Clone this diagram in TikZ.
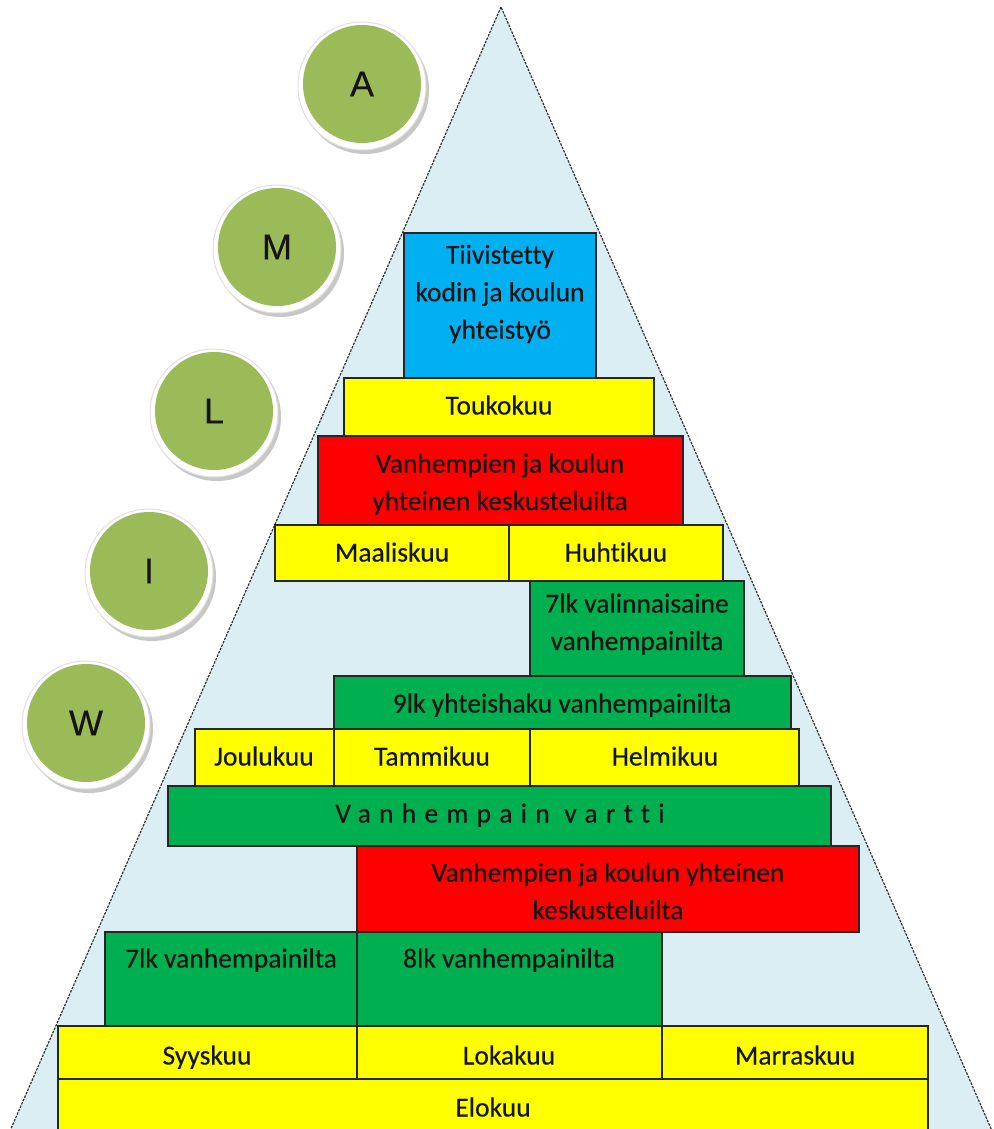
\documentclass[tikz,border=0pt]{standalone}
\usepackage{fontspec}
\setmainfont{Carlito}[Ligatures=NoCommon, FakeBold=0.3]
\newfontfamily\circfont{Liberation Sans}[FakeBold=0.3]
\newfontfamily\spacedfont{Carlito}[LetterSpace=30, Ligatures=NoCommon, FakeBold=0.3]
\definecolor{trifill}{HTML}{DBEEF4}
\definecolor{cblue}{HTML}{00B0F0}
\definecolor{cgreen}{HTML}{00B050}
\definecolor{cred}{HTML}{FF0000}
\definecolor{cyellow}{HTML}{FFFF00}
\definecolor{circgreen}{HTML}{9BBB59}
\definecolor{txtc}{HTML}{141414}
\tikzset{
  box/.style={draw=black!85, line width=1.3pt, inner sep=0pt, outer sep=0pt, anchor=north west},
  txt/.style={font=\fontsize{27.5}{37.5}\selectfont, text=txtc, align=center, inner sep=0pt},
  one/.style={txt, text height=19pt, text depth=0pt},
  tri/.style={draw=black!80, line width=1.2pt, dash pattern=on 2.5pt off 1.2pt, fill=trifill},
  ring/.style={circle, fill=white, draw=black!12, line width=1pt, minimum size=128pt, inner sep=0pt},
  ball/.style={circle, fill=circgreen, minimum size=118pt, inner sep=0pt, text=txtc, font=\circfont\fontsize{36}{40}\selectfont},
}
\newcommand\bx[6]{\node[box, fill=#6, minimum width={#4pt-#2pt}, minimum height={#5pt-#3pt}] (#1) at (#2,#3) {};}
\begin{document}
\begin{tikzpicture}[x=1pt,y=-1pt]
\useasboundingbox (0,0) rectangle (993,1129);
\clip (0,0) rectangle (993,1129);
\fill[white] (0,0) rectangle (993,1129);
% triangle
\coordinate (apex) at (501,7);
\coordinate (bl) at (6,1140);
\coordinate (br) at (996,1140);
\draw[tri] (apex) -- (bl) -- (br) -- cycle;
% circles
\foreach \n/\x/\y in {A/362/86, M/277/249, L/214/413, I/149/573, W/86/725}{
  \fill[black!22] (\x+3,\y+4) circle (64);
  \node[ring] (ring\n) at (\x,\y) {};
  \node[ball] (c\n) at (\x,\y-2) {\n};
}
% boxes
\bx{blue}{404}{233}{596}{378}{cblue}
\bx{touko}{344}{378}{654}{436}{cyellow}
\bx{redA}{318}{436}{683}{525}{cred}
\bx{maalis}{275}{525}{509}{581}{cyellow}
\bx{huhti}{509}{525}{723}{581}{cyellow}
\bx{val}{530}{581}{744}{676}{cgreen}
\bx{yh}{334}{676}{791}{729}{cgreen}
\bx{joulu}{195}{729}{334}{786}{cyellow}
\bx{tammi}{334}{729}{530}{786}{cyellow}
\bx{helmi}{530}{729}{799}{786}{cyellow}
\bx{vartti}{168}{786}{831}{846}{cgreen}
\bx{redB}{357}{846}{859}{932}{cred}
\bx{vsev}{105}{932}{357}{1026}{cgreen}
\bx{veig}{357}{932}{662}{1026}{cgreen}
\bx{syys}{58}{1026}{357}{1079}{cyellow}
\bx{loka}{357}{1026}{662}{1079}{cyellow}
\bx{marras}{662}{1026}{928}{1079}{cyellow}
\bx{elo}{58}{1079}{928}{1145}{cyellow}
% texts
\node[txt] (tblue) at (500,294) {Tiivistetty\\kodin ja koulun\\yhteistyö};
\node[one] (ttouko) at (499,405) {Toukokuu};
\node[txt] (tredA) at (500,484) {Vanhempien ja koulun\\yhteinen keskusteluilta};
\node[one] (tmaalis) at (392,552) {Maaliskuu};
\node[one] (thuhti) at (616,552) {Huhtikuu};
\node[txt] (tval) at (637,624) {7lk valinnaisaine\\vanhempainilta};
\node[one] (tyh) at (562,703) {9lk yhteishaku vanhempainilta};
\node[one] (tjoulu) at (264,756) {Joulukuu};
\node[one] (ttammi) at (432,756) {Tammikuu};
\node[one] (thelmi) at (665,756) {Helmikuu};
\node[one, font=\spacedfont\fontsize{27.5}{37.5}\selectfont] (tvartti) at (500,813) {Vanhempain vartti};
\node[txt] (tredB) at (608,891) {Vanhempien ja koulun yhteinen\\keskusteluilta};
\node[one] (tvsev) at (231,958) {7lk vanhempainilta};
\node[one] (tveig) at (509,958) {8lk vanhempainilta};
\node[one] (tsyys) at (207,1055) {Syyskuu};
\node[one] (tloka) at (509,1055) {Lokakuu};
\node[one] (tmarras) at (795,1055) {Marraskuu};
\node[one] (telo) at (493,1107) {Elokuu};
\end{tikzpicture}
\end{document}
